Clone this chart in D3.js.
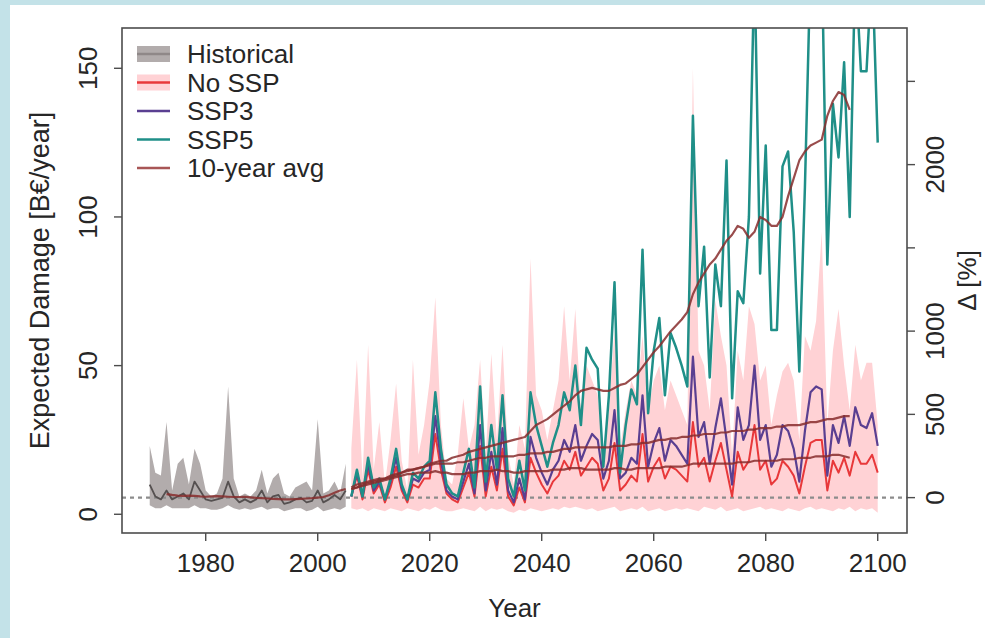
<!DOCTYPE html>
<html>
<head>
<meta charset="utf-8">
<script src="https://cdn.jsdelivr.net/npm/d3@7"></script>
<style>
  html, body { margin: 0; padding: 0; background: #c3e2e8; }
  body { width: 985px; height: 638px; overflow: hidden; position: relative; }
  svg { position: absolute; left: 0; top: 0; }
  text { font-family: "Liberation Sans", Arial, sans-serif; fill: #262626; }
</style>
</head>
<body>
<script>
var histYears = d3.range(1970, 2006);
var histAvgYears = d3.range(1973, 2006);
var projYears = d3.range(2006, 2101);
var projAvgYears = d3.range(2006, 2096);

// historical 1970-2005
var histMid = [10, 6, 5, 8, 5, 6, 7, 5, 11, 8,
               5, 4.5, 5, 5.5, 11, 6, 4, 5, 4, 5,
               8, 4, 6, 6.5, 3.5, 4, 5, 5.5, 4, 4.5,
               8, 4, 5, 6.5, 5, 8];
var histLow = [3, 2, 2, 3, 2, 2, 2, 2, 3, 2,
               2, 1.5, 1.5, 2, 3, 2, 1.5, 2, 1.5, 2,
               2.5, 1.5, 2, 2, 1, 1.5, 2, 2, 1, 1.5,
               2.5, 1, 1.5, 2, 1.5, 2.5];
var histHigh = [23, 14, 13, 31, 8, 17, 19, 10, 22, 17,
                8, 6, 7, 12, 43, 12, 6, 7, 6, 8,
                15, 7, 12, 14, 7, 6, 9, 10, 11, 8,
                32, 7, 8, 11, 7, 17];
// 1973-2005
var histAvg = [6.8, 6.5, 6.3, 6.2, 6.3, 6.2, 6.0,
               5.9, 6.0, 6.1, 6.0, 5.9, 5.8, 5.8, 5.9, 5.7, 5.5,
               5.4, 5.3, 5.2, 5.1, 5.0, 5.0, 5.1, 5.2, 5.3, 5.4,
               5.6, 5.8, 6.4, 7.2, 8.0, 8.5];

// projections 2006-2100
var noSspMid = [6, 13, 5, 15, 7, 10, 4, 9, 16, 8,
                4, 10, 9, 12, 12, 27, 15, 7, 5, 4,
                9, 14, 6, 23, 6, 16, 8, 22, 6, 3,
                9, 4, 19, 14, 10, 7, 11, 13, 18, 15,
                21, 13, 16, 19, 17, 8, 12, 24, 8, 10,
                13, 11, 27, 11, 16, 19, 12, 16, 15, 13,
                11, 31, 16, 19, 11, 18, 24, 15, 6, 21,
                15, 18, 30, 15, 18, 10, 12, 18, 16, 13,
                7, 16, 24, 25, 25, 8, 18, 14, 19, 13,
                21, 17, 17, 20, 14];
var noSspLow = [2, 1.5, 2, 1, 2, 1.5, 1, 2, 1.5, 1,
                2, 1.5, 1, 2, 1.5, 2.5, 1.5, 1, 1, 1.5,
                2, 1.5, 1, 2.5, 1, 2, 1.5, 2, 1, 0.5,
                1.5, 1, 2, 1.5, 1, 1.5, 2, 1.5, 2.5, 2,
                2.5, 2, 1.5, 2, 1, 1.5, 2, 2.5, 1, 1.5,
                2, 1.5, 2.5, 1, 1.5, 2, 1, 1.5, 2, 1.5,
                2, 1.5, 1, 2.5, 2, 1.5, 2.5, 1, 1.5, 2,
                1, 1.5, 2, 2.5, 1.5, 2, 1.5, 1, 2, 1.5,
                1, 2, 2.5, 1.5, 2, 1.5, 1, 2, 1.5, 2.5,
                1, 2, 1.5, 2, 0.5];
var noSspHigh = [22, 52, 12, 57, 15, 31, 10, 25, 44, 18,
                 8, 52, 20, 30, 45, 73, 30, 12, 10, 20,
                 39, 22, 30, 52, 20, 54, 25, 57, 20, 10,
                 30, 22, 86, 40, 35, 25, 35, 45, 70, 45,
                 69, 35, 50, 45, 40, 20, 35, 62, 22, 35,
                 45, 40, 60, 35, 45, 50, 35, 45, 40, 35,
                 30, 150, 55, 50, 35, 72, 60, 50, 20, 55,
                 45, 70, 64, 45, 50, 30, 40, 48, 51, 45,
                 25, 60, 55, 65, 95, 30, 55, 69, 50, 35,
                 57, 45, 51, 51, 30];
var ssp3 = [6, 14, 6, 17, 8, 11, 5, 11, 19, 9,
            5, 12, 11, 14, 15, 33, 18, 8, 6, 5,
            11, 17, 7, 30, 8, 21, 10, 29, 8, 4,
            12, 5, 26, 19, 14, 10, 15, 18, 25, 21,
            30, 18, 23, 27, 25, 12, 18, 35, 12, 14,
            19, 17, 40, 16, 24, 29, 18, 25, 23, 20,
            17, 53, 26, 31, 17, 29, 39, 25, 10, 36,
            25, 30, 50, 25, 30, 16, 20, 30, 28, 22,
            11, 28, 41, 43, 42, 13, 30, 24, 33, 23,
            36, 30, 29, 34, 23];
var ssp5 = [6, 15, 6, 19, 9, 12, 5, 12, 22, 10,
            5, 14, 12, 16, 18, 41, 22, 10, 7, 6,
            14, 22, 9, 43, 11, 30, 15, 40, 12, 6,
            18, 8, 41, 30, 23, 16, 24, 30, 41, 35,
            50, 30, 56, 52, 49, 16, 40, 78, 14, 30,
            42, 37, 89, 34, 55, 66, 40, 61, 56, 50,
            43, 134, 70, 90, 46, 84, 70, 119, 39, 75,
            71, 100, 185, 81, 124, 62, 62, 117, 122, 95,
            48, 110, 185, 175, 190, 84, 138, 120, 152, 100,
            185, 149, 149, 185, 125];

// 10-year averages 2006-2095
var noSspAvg = [8.5, 9, 9.5, 10, 10.5, 11, 11.5, 12, 12.5, 13,
                13.5, 13.5, 14, 14, 14, 14.5, 14, 14, 13.5, 13.5,
                13.5, 14, 14, 14.5, 14.5, 14.5, 15, 14.5, 14.5, 14,
                14, 14.5, 14.5, 14.5, 14.5, 14.5, 15, 15, 15, 15.5,
                15.5, 15.5, 15, 15, 15, 15, 15, 15.5, 15.5, 15,
                15, 15.5, 15.5, 15.5, 15.5, 15.5, 16, 16, 16, 16,
                16.5, 17, 17, 17, 17, 17, 17, 17, 17, 17.5,
                17.5, 17.5, 18, 18, 18, 18, 18, 18.5, 18.5, 18.5,
                19, 19, 19, 19.5, 19.5, 19.5, 20, 20, 19.5, 19];
var ssp3Avg = [8.5, 9, 10, 10.5, 11, 11.5, 12, 13, 13.5, 14,
               14.5, 15, 15.5, 16, 16.5, 17, 17, 17, 17, 17.5,
               17.5, 18, 18.5, 19, 19, 19.5, 19.5, 19.5, 19.5, 19.5,
               20, 20, 20.5, 20.5, 20.5, 21, 21, 21.5, 22, 22,
               22.5, 22.5, 22.5, 22.5, 22.5, 22.5, 22.5, 23, 23, 23,
               23.5, 23.5, 24, 24, 24.5, 25, 25, 25.5, 25.5, 26,
               26, 26.5, 26.5, 27, 27, 27, 27.5, 27.5, 28, 28,
               28, 28.5, 28.5, 29, 29, 29, 29.5, 29.5, 30, 30,
               30, 30.5, 31, 31, 31.5, 32, 32, 32.5, 33, 33];
var ssp5Avg = [9, 10, 10.5, 11, 11.5, 12, 12, 12.5, 13, 14,
               15, 15, 15.5, 16, 17, 17.5, 18, 18, 19, 19.5,
               20, 21, 21.5, 22, 22.5, 23, 23.5, 24, 24.5, 25,
               25.5, 26, 28, 30, 31, 32, 33.5, 35, 36.5, 38,
               40, 41.5, 42, 42.5, 42, 41.5, 41.5, 42.5, 43.5, 44,
               45.5, 47, 49.5, 52, 54.5, 56.5, 59, 61.5, 63.5, 65.5,
               68, 74, 78, 81, 84, 86, 89, 92, 94, 97,
               96, 93, 95, 100, 99, 97, 97, 100, 107, 113,
               119, 122, 124, 125, 126, 134, 139, 142, 141, 136];

var baseline = 5.6;   // B€/year, 0 % reference

var xTicks = [1980, 2000, 2020, 2040, 2060, 2080, 2100];
var yTicks = [0, 50, 100, 150];
var pctTicks = [0, 500, 1000, 1500, 2000, 2500];
var pctLabels = ["0", "500", "1000", "", "2000", ""];

var legendNames = ["Historical", "No SSP", "SSP3", "SSP5", "10-year avg"];

var DamagePlot = {

  box: { left: 122, top: 28, right: 907, bottom: 533 },

  colors: {
    histBand: '#b2acac',
    histLine: '#555050',
    pinkBand: '#ffd2d5',
    red: '#e8383a',
    ssp3: '#5a3f91',
    ssp5: '#1f8f88',
    avg: 'rgba(135,45,45,0.85)'
  },

  svg: null,
  x: null,
  y: null,
  pct: null,

  init: function () {

    this.svg = d3.select('body').append('svg')
      .attr('width', 985)
      .attr('height', 638);

    // white panel inside the light blue frame
    this.svg.append('rect')
      .attr('x', 10).attr('y', 5)
      .attr('width', 975).attr('height', 633)
      .attr('fill', '#fff');

    this.x = d3.scaleLinear().domain([1965.05, 2105.23]).range([this.box.left, this.box.right]);
    this.y = d3.scaleLinear().domain([-6.3, 163.55]).range([this.box.bottom, this.box.top]);
    this.pct = d3.scaleLinear()
      .domain([(-6.3 / baseline - 1) * 100, (163.55 / baseline - 1) * 100])
      .range([this.box.bottom, this.box.top]);

    this.svg.append('clipPath').attr('id', 'plotclip')
      .append('rect')
      .attr('x', this.box.left).attr('y', this.box.top)
      .attr('width', this.box.right - this.box.left)
      .attr('height', this.box.bottom - this.box.top);

    this.plot = this.svg.append('g').attr('clip-path', 'url(#plotclip)');

    this.drawBand(histYears, histLow, histHigh, this.colors.histBand);
    this.drawBand(projYears, noSspLow, noSspHigh, this.colors.pinkBand);

    this.plot.append('line')
      .attr('x1', this.box.left).attr('x2', this.box.right)
      .attr('y1', this.y(baseline)).attr('y2', this.y(baseline))
      .style('stroke', '#8c8c8c')
      .style('stroke-width', 2.2)
      .style('stroke-dasharray', '4,4');

    this.drawLine(histYears, histMid, this.colors.histLine, 1.8);
    this.drawLine(projYears, noSspMid, this.colors.red, 2);
    this.drawLine(projYears, ssp3, this.colors.ssp3, 2.2);
    this.drawLine(projYears, ssp5, this.colors.ssp5, 2.5);

    this.drawLine(histAvgYears, histAvg, this.colors.avg, 2.2);
    this.drawLine(projAvgYears, noSspAvg, this.colors.avg, 2.2);
    this.drawLine(projAvgYears, ssp3Avg, this.colors.avg, 2.2);
    this.drawLine(projAvgYears, ssp5Avg, this.colors.avg, 2.2);

    this.drawAxes();
    this.drawLegend();
  },

  pairs: function (years, values) {
    return years.map(function (yr, i) { return { year: yr, v: values[i] }; });
  },

  drawBand: function (years, low, high, color) {
    var self = this;
    var data = years.map(function (yr, i) { return { year: yr, lo: low[i], hi: high[i] }; });
    var area = d3.area()
      .x(function (d) { return self.x(d.year); })
      .y0(function (d) { return self.y(d.lo); })
      .y1(function (d) { return self.y(d.hi); });

    this.plot.append('path')
      .attr('d', area(data))
      .style('fill', color)
      .style('stroke', 'none');
  },

  drawLine: function (years, values, color, width) {
    var self = this;
    var line = d3.line()
      .x(function (d) { return self.x(d.year); })
      .y(function (d) { return self.y(d.v); });

    return this.plot.append('path')
      .attr('d', line(this.pairs(years, values)))
      .style('fill', 'none')
      .style('stroke', color)
      .style('stroke-width', width)
      .style('stroke-linejoin', 'round');
  },

  drawAxes: function () {
    var self = this, b = this.box, axisColor = '#4d4d4d';
    var g = this.svg.append('g');

    g.append('rect')
      .attr('x', b.left).attr('y', b.top)
      .attr('width', b.right - b.left).attr('height', b.bottom - b.top)
      .style('fill', 'none').style('stroke', axisColor).style('stroke-width', 1.6);

    // bottom axis
    xTicks.forEach(function (t) {
      var px = self.x(t);
      g.append('line').attr('x1', px).attr('x2', px).attr('y1', b.bottom).attr('y2', b.bottom + 8)
        .style('stroke', axisColor).style('stroke-width', 1.4);
      g.append('text').attr('x', px).attr('y', 563)
        .attr('text-anchor', 'middle').attr('dominant-baseline', 'central')
        .style('font-size', '26px').text(t);
    });

    // left axis
    yTicks.forEach(function (t) {
      var py = self.y(t);
      g.append('line').attr('x1', b.left - 8).attr('x2', b.left).attr('y1', py).attr('y2', py)
        .style('stroke', axisColor).style('stroke-width', 1.4);
      g.append('text').attr('transform', 'translate(88,' + py + ') rotate(-90)')
        .attr('text-anchor', 'middle').attr('dominant-baseline', 'central')
        .style('font-size', '26px').text(t);
    });

    // right axis, relative change
    pctTicks.forEach(function (t, i) {
      var py = self.pct(t);
      g.append('line').attr('x1', b.right).attr('x2', b.right + 8).attr('y1', py).attr('y2', py)
        .style('stroke', axisColor).style('stroke-width', 1.4);
      g.append('text').attr('transform', 'translate(935,' + py + ') rotate(-90)')
        .attr('text-anchor', 'middle').attr('dominant-baseline', 'central')
        .style('font-size', '26px').text(pctLabels[i]);
    });

    var midY = (b.top + b.bottom) / 2;
    g.append('text').attr('x', (b.left + b.right) / 2).attr('y', 608)
      .attr('text-anchor', 'middle').attr('dominant-baseline', 'central')
      .style('font-size', '26px').text('Year');
    g.append('text').attr('transform', 'translate(40,' + midY + ') rotate(-90)')
      .attr('text-anchor', 'middle').attr('dominant-baseline', 'central')
      .style('font-size', '27px').text('Expected Damage [B€/year]');
    g.append('text').attr('transform', 'translate(967,' + midY + ') rotate(-90)')
      .attr('text-anchor', 'middle').attr('dominant-baseline', 'central')
      .style('font-size', '26px').text('Δ [%]');
  },

  drawLegend: function () {
    var c = this.colors;
    var keys = [
      { band: c.histBand, line: '#8f8888' },
      { band: c.pinkBand, line: c.red },
      { band: null, line: c.ssp3 },
      { band: null, line: c.ssp5 },
      { band: null, line: '#a85656' }
    ];
    var g = this.svg.append('g');

    legendNames.forEach(function (name, i) {
      var cy = 54 + i * 28.5;
      if (keys[i].band) {
        g.append('rect').attr('x', 137).attr('y', cy - 8).attr('width', 33).attr('height', 16)
          .style('fill', keys[i].band);
      }
      g.append('line').attr('x1', 137).attr('x2', 170).attr('y1', cy).attr('y2', cy)
        .style('stroke', keys[i].line).style('stroke-width', 2.6);
      g.append('text').attr('x', 187).attr('y', cy)
        .attr('dominant-baseline', 'central')
        .style('font-size', '26px').text(name);
    });
  }
};

DamagePlot.init();
</script>
</body>
</html>
